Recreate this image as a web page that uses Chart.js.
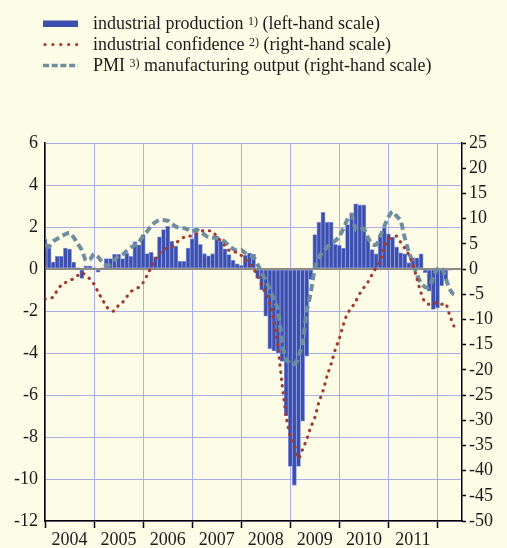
<!DOCTYPE html>
<html>
<head>
<meta charset="utf-8">
<script src="https://cdn.jsdelivr.net/npm/chart.js@4/dist/chart.umd.min.js"></script>
<style>
html,body{margin:0;padding:0;background:#fdfce6;}
#wrap{width:507px;height:548px;position:relative;}
canvas{display:block;}
</style>
</head>
<body>
<div id="wrap"><canvas id="c" width="507" height="548"></canvas></div>
<script>
// ---- data (monthly, index 0 = Jan 2004) ----
const years = ['2004','2005','2006','2007','2008','2009','2010','2011'];
const leftTicks = [6,4,2,0,-2,-4,-6,-8,-10,-12];
const rightTicks = [25,20,15,10,5,0,-5,-10,-15,-20,-25,-30,-35,-40,-45,-50];

const legendNames = ['industrial production','industrial confidence','PMI'];
const legendNotes = ['1)','2)','3)'];
const legendTails = ['(left-hand scale)','(right-hand scale)','manufacturing output (right-hand scale)'];

// industrial production, % change (left-hand scale)
const industrialProduction = [
  1.43,1.0,0.33,0.6,0.6,1.0,0.95,0.33,0.05,-0.45,
  0.15,0.15,0.05,-0.15,0.05,0.5,0.5,0.7,0.7,0.5,
  0.75,0.6,1.3,1.15,1.64,0.74,0.8,0.58,1.53,1.88,
  2.03,1.32,1.09,0.37,0.37,1.0,1.44,1.72,1.17,0.73,
  0.63,0.73,1.44,1.32,0.96,0.69,0.42,0.25,0.17,0.65,
  0.76,0.7,-0.45,-1.0,-2.25,-3.8,-3.9,-4.0,-4.4,-7.0,
  -9.4,-10.3,-9.4,-7.25,-4.15,-0.5,1.64,2.23,2.7,2.23,
  2.23,1.17,1.13,1.0,2.12,2.67,3.1,3.05,3.05,1.52,
  0.93,0.72,1.64,1.96,1.68,1.52,1.05,0.77,0.72,0.3,
  0.53,0.53,0.72,-0.18,-1.06,-1.93,-1.85,-0.8,-0.5,-0.05
];

// industrial confidence (right-hand scale)
const industrialConfidence = [
  -6.0,-5.8,-5.6,-4.2,-3.2,-2.7,-2.3,-1.9,-1.3,-0.75,
  -1.3,-2.0,-3.0,-4.6,-6.0,-7.4,-8.3,-8.3,-7.2,-6.6,
  -5.5,-4.5,-4.0,-3.6,-2.7,-1.2,0.4,1.9,3.1,3.9,
  4.1,4.4,5.1,5.8,6.3,6.6,6.5,7.0,7.5,7.6,
  7.6,7.5,6.4,5.6,4.6,3.7,3.4,3.3,2.7,1.9,
  1.1,0.0,-1.3,-3.2,-4.9,-7.0,-10.2,-15.7,-22.9,-29.3,
  -33.2,-35.0,-37.6,-35.8,-33.8,-31.4,-29.5,-26.4,-24.2,-21.2,
  -18.8,-16.0,-13.8,-11.0,-8.8,-7.7,-6.4,-4.9,-3.7,-2.6,
  -1.1,0.3,1.6,4.5,5.9,6.3,6.5,5.3,4.1,2.8,
  0.9,-2.0,-4.8,-6.7,-7.0,-6.8,-6.7,-7.0,-6.8,-9.2,
  -11.3
];

// PMI manufacturing output, deviation from 50 (right-hand scale)
const pmiOutput = [
  4.85,4.5,5.5,6.0,6.5,6.9,7.2,6.3,5.0,3.8,
  1.7,1.9,3.0,2.4,1.3,0.7,0.9,1.8,2.5,2.9,
  3.6,4.3,4.7,5.3,6.6,7.5,8.6,9.3,9.7,9.7,
  9.6,9.0,8.4,8.2,8.1,7.8,7.4,7.8,7.4,6.8,
  6.3,6.2,6.2,5.8,5.4,4.6,4.0,3.6,3.8,3.2,
  2.8,2.3,0.9,-0.7,-2.4,-4.0,-6.2,-8.0,-14.6,-18.0,
  -18.7,-18.9,-17.5,-14.6,-8.5,-4.7,0.0,2.2,3.5,4.3,
  5.0,5.6,6.5,8.0,9.8,10.8,7.8,7.8,8.0,6.2,
  5.0,4.8,6.5,8.5,10.3,11.4,10.5,9.5,6.2,3.3,
  1.2,-1.2,-2.8,-3.6,-3.6,-1.5,0.0,0.3,-1.8,-4.0,
  -5.0,-5.0
];

const toPoints = arr => arr.map((v, i) => ({x: i, y: v}));

const BG = '#fdfce6';
const GRID = '#a7aeea';
const FONT = {family: '"Liberation Serif", "Times New Roman", serif', size: 18};
const TXT = '#1a1a1a';

const bgPlugin = {
  id: 'bg',
  beforeDraw(chart) {
    const c = chart.ctx;
    c.save();
    c.fillStyle = BG;
    c.fillRect(0, 0, chart.width, chart.height);
    c.restore();
  }
};

const legendPlugin = {
  id: 'rowsLegend',
  afterDraw(chart) {
    const c = chart.ctx;
    const ds = chart.data.datasets;
    c.save();
    for (let k = 0; k < 3; k++) {
      const base = 28.5 + k * 21;
      const cy = base - 5;
      if (k === 0) {
        c.fillStyle = ds[0].backgroundColor;
        c.fillRect(43, cy - 3, 35, 6.5);
      } else if (k === 1) {
        c.fillStyle = ds[1].borderColor;
        for (let d = 0; d < 5; d++) {
          c.beginPath();
          c.arc(45 + d * 7.9, cy, 1.6, 0, Math.PI * 2);
          c.fill();
        }
      } else {
        c.strokeStyle = ds[2].borderColor;
        c.lineWidth = 3.5;
        c.setLineDash([6, 2.7]);
        c.beginPath();
        c.moveTo(43, cy);
        c.lineTo(78, cy);
        c.stroke();
        c.setLineDash([]);
      }
      c.fillStyle = TXT;
      c.textBaseline = 'alphabetic';
      c.textAlign = 'left';
      c.font = '18px "Liberation Serif"';
      let x = 93;
      c.fillText(legendNames[k], x, base);
      x += c.measureText(legendNames[k] + ' ').width;
      c.font = '12px "Liberation Serif"';
      c.fillText(legendNotes[k], x, base - 4);
      x += c.measureText(legendNotes[k]).width;
      c.font = '18px "Liberation Serif"';
      x += c.measureText(' ').width;
      c.fillText(legendTails[k], x, base);
    }
    c.restore();
  }
};

new Chart(document.getElementById('c'), {
  type: 'bar',
  data: {
    datasets: [
      {
        type: 'bar',
        label: 'industrial production',
        data: toPoints(industrialProduction),
        yAxisID: 'y',
        backgroundColor: '#3c4fae',
        borderColor: '#8e9be0',
        borderWidth: 0.8,
        borderSkipped: false,
        barPercentage: 1,
        categoryPercentage: 1,
        order: 3,
        clip: 0
      },
      {
        type: 'line',
        label: 'industrial confidence',
        data: toPoints(industrialConfidence),
        yAxisID: 'y2',
        borderColor: '#a23a2f',
        borderWidth: 3.1,
        borderDash: [0.4, 6.6],
        borderCapStyle: 'round',
        pointRadius: 0,
        tension: 0.25,
        fill: false,
        order: 1,
        clip: 0
      },
      {
        type: 'line',
        label: 'PMI manufacturing output',
        data: toPoints(pmiOutput),
        yAxisID: 'y2',
        borderColor: '#6f8e9d',
        borderWidth: 4,
        borderDash: [7, 4],
        borderCapStyle: 'butt',
        pointRadius: 0,
        tension: 0.25,
        fill: false,
        order: 2,
        clip: 0
      }
    ]
  },
  options: {
    responsive: false,
    animation: false,
    layout: {padding: {top: 143, left: 0, right: 0, bottom: 0}},
    plugins: {legend: {display: false}, tooltip: {enabled: false}},
    scales: {
      x: {
        type: 'linear',
        position: 'bottom',
        min: 0,
        max: 102,
        offset: false,
        afterBuildTicks: axis => {
          const t = [];
          for (let v = 0; v <= 96; v += 6) t.push({value: v});
          axis.ticks = t;
        },
        afterFit: s => { s.height = 27; },
        grid: {
          offset: false,
          color: ctx => (ctx.tick && ctx.tick.value % 12 === 0) ? GRID : 'rgba(0,0,0,0)',
          lineWidth: 1,
          drawTicks: true,
          tickLength: 7,
          tickWidth: 1.5,
          tickColor: ctx => (ctx.tick && ctx.tick.value % 12 === 0) ? '#000' : 'rgba(0,0,0,0)'
        },
        border: {display: true, color: '#000', width: 1.5},
        ticks: {
          autoSkip: false,
          maxRotation: 0,
          minRotation: 0,
          padding: 1,
          font: FONT,
          color: TXT,
          callback: v => (v % 12 === 6) ? years[(v - 6) / 12] : ''
        }
      },
      y: {
        type: 'linear',
        position: 'left',
        min: -12,
        max: 6,
        afterBuildTicks: axis => { axis.ticks = leftTicks.map(v => ({value: v})); },
        afterFit: s => { s.width = 45; },
        grid: {
          color: ctx => (ctx.tick && ctx.tick.value === 0) ? '#8d8a83' : GRID,
          lineWidth: ctx => (ctx.tick && ctx.tick.value === 0) ? 2 : 1,
          drawTicks: false
        },
        border: {display: true, color: '#000', width: 1.5},
        ticks: {padding: 7, font: FONT, color: TXT}
      },
      y2: {
        type: 'linear',
        position: 'right',
        min: -50,
        max: 25,
        afterBuildTicks: axis => { axis.ticks = rightTicks.map(v => ({value: v})); },
        afterFit: s => { s.width = 45; },
        grid: {
          drawOnChartArea: false,
          drawTicks: true,
          tickLength: 4,
          tickWidth: 1.5,
          tickColor: '#000'
        },
        border: {display: true, color: '#000', width: 1.5},
        ticks: {padding: 3, font: FONT, color: TXT}
      }
    }
  },
  plugins: [bgPlugin, legendPlugin]
});
</script>
</body>
</html>
